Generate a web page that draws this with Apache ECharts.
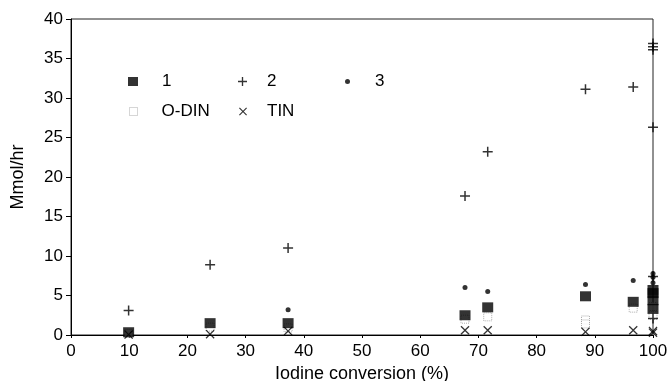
<!DOCTYPE html>
<html>
<head>
<meta charset="utf-8">
<script src="https://cdn.jsdelivr.net/npm/echarts@6/dist/echarts.min.js"></script>
<style>
  html, body { margin: 0; padding: 0; background: #fff; }
  #chart { width: 669px; height: 381px; }
</style>
</head>
<body>
<div id="chart"></div>
<script>
// Iodine conversion (%) and rate (Mmol/hr) per product
const s1X = [9.9, 23.9, 37.3, 67.7, 71.6, 88.4, 96.6, 100, 100, 100, 100]
const s1Y = [0.35, 1.5, 1.5, 2.5, 3.5, 4.9, 4.2, 5.7, 5.3, 4.4, 3.3]

const s2X = [9.9, 23.9, 37.3, 67.7, 71.6, 88.4, 96.6, 100, 100, 100, 100, 100, 100]
const s2Y = [3.1, 8.9, 11.0, 17.6, 23.2, 31.1, 31.4, 36.9, 36.5, 36.1, 26.3, 7.4, 2.1]

const s3X = [37.3, 67.7, 71.6, 88.4, 96.6, 100, 100, 100]
const s3Y = [3.2, 6.0, 5.5, 6.4, 6.9, 7.8, 7.3, 6.6]

const odinX = [9.9, 23.9, 37.3, 67.7, 71.6, 88.4, 88.4, 96.6, 100, 100]
const odinY = [0.2, 1.0, 0.9, 2.0, 2.3, 1.9, 1.4, 3.4, 2.5, 3.6]

const tinX = [9.9, 23.9, 37.3, 67.7, 71.6, 88.4, 96.6, 100, 100]
const tinY = [0.05, 0.1, 0.5, 0.6, 0.6, 0.4, 0.6, 0.5, 0.3]

const FONT = '"Liberation Sans", Arial, sans-serif'
const INK = '#000'

const PLUS = 'path://M8.5,0H11.5V8.5H20V11.5H11.5V20H8.5V11.5H0V8.5H8.5Z'
const CROSS = 'path://M0,2L2,0L10,8L18,0L20,2L12,10L20,18L18,20L10,12L2,20L0,18L8,10Z'

const zip = (xs, ys) => xs.map((x, i) => [x, ys[i]])

const chart = echarts.init(document.getElementById('chart'))

// one legend per entry so each can sit where it does in the figure
const legendItem = (name, icon, left, top, w, h, padLeft, extra) => ({
  left, top,
  padding: 0,
  itemWidth: w,
  itemHeight: h,
  selectedMode: false,
  data: [Object.assign({ name, icon }, extra || {})],
  textStyle: { fontFamily: FONT, fontSize: 17, color: INK, padding: [0, 0, 0, padLeft] },
})

chart.setOption({
  animation: false,
  backgroundColor: '#fff',
  grid: {
    left: 71, right: 16, top: 19, bottom: 46,
    outerBoundsMode: 'none',
    show: true, borderColor: '#222', borderWidth: 1,
  },
  legend: [
    legendItem('1', 'rect', 128, 73, 10, 9, 19),
    legendItem('2', PLUS, 238, 73, 9, 9, 15),
    legendItem('3', 'circle', 345, 73, 5, 5, 20),
    legendItem('O-DIN', 'rect', 129, 103, 8, 8, 19, {
      itemStyle: { color: '#fff', borderColor: '#999', borderWidth: 1, borderType: 'dotted' },
    }),
    legendItem('TIN', CROSS, 239, 103, 8, 8, 15),
  ],
  xAxis: {
    type: 'value',
    min: 0, max: 100, interval: 10,
    name: 'Iodine conversion (%)',
    nameLocation: 'middle',
    nameGap: 18,
    nameTextStyle: { fontFamily: FONT, fontSize: 18, color: INK },
    axisLine: { lineStyle: { color: INK, width: 1 } },
    axisTick: { show: true, length: 3, lineStyle: { color: INK } },
    axisLabel: { fontFamily: FONT, fontSize: 17, color: INK, margin: 8 },
    splitLine: { show: false },
  },
  yAxis: {
    type: 'value',
    min: 0, max: 40, interval: 5,
    name: 'Mmol/hr',
    nameLocation: 'middle',
    nameGap: 44,
    nameTextStyle: { fontFamily: FONT, fontSize: 18, color: INK },
    axisLine: { show: true, lineStyle: { color: INK, width: 1 } },
    axisTick: { show: true, length: 5, lineStyle: { color: INK } },
    axisLabel: { fontFamily: FONT, fontSize: 17, color: INK, margin: 8 },
    splitLine: { show: false },
  },
  series: [
    {
      name: 'O-DIN', type: 'scatter', clip: false,
      symbol: 'rect', symbolSize: 8,
      itemStyle: { color: '#fff', borderColor: '#999', borderWidth: 1, borderType: 'dotted' },
      data: zip(odinX, odinY),
    },
    {
      name: 'TIN', type: 'scatter', clip: false,
      symbol: CROSS, symbolSize: 9,
      itemStyle: { color: INK },
      data: zip(tinX, tinY),
    },
    {
      name: '3', type: 'scatter', clip: false,
      symbol: 'circle', symbolSize: 5,
      itemStyle: { color: INK },
      data: zip(s3X, s3Y),
    },
    {
      name: '2', type: 'scatter', clip: false,
      symbol: PLUS, symbolSize: 10,
      itemStyle: { color: INK },
      data: zip(s2X, s2Y),
    },
    {
      name: '1', type: 'scatter', clip: false,
      symbol: 'rect', symbolSize: [11, 10],
      itemStyle: { color: INK },
      data: zip(s1X, s1Y),
    },
  ],
})
</script>
</body>
</html>
